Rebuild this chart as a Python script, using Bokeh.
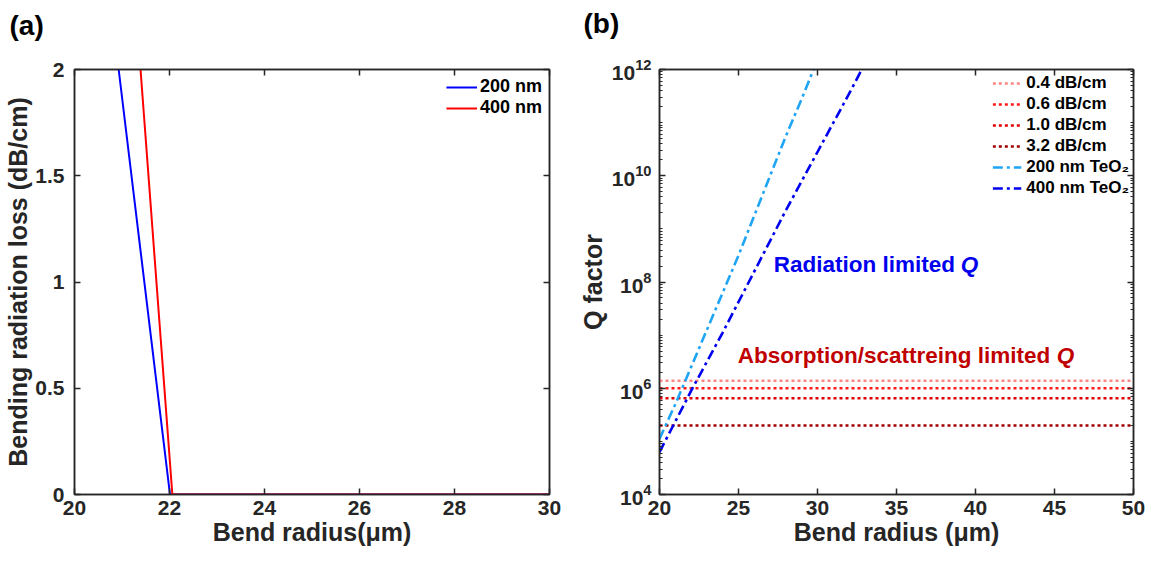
import math
from bokeh.plotting import figure
from bokeh.models import (Range1d, LinearAxis, LogAxis, FixedTicker, CustomJSTickFormatter,
                          LogTickFormatter, Legend, LegendItem, Label, Title)
from bokeh.layouts import row
from bokeh.embed import file_html
from bokeh.resources import INLINE

FONT = "Liberation Sans"
AXC = "#262626"

# ---------------- data: panel (a) ----------------
radius_200_a = [20.93, 22.01, 30.0]
loss_200_a = [2.0, 0.0, 0.0]
radius_400_a = [21.39, 22.06, 30.0]
loss_400_a = [2.0, 0.0, 0.0]
a_series = ["200 nm", "400 nm"]
a_xticks = [20, 22, 24, 26, 28, 30]
a_yticks = [0, 0.5, 1, 1.5, 2]

# ---------------- data: panel (b) ----------------
radius_200_b = [20, 21, 22, 23, 24, 25, 26, 27, 28, 29, 29.75]
q_200_b = [1.12e5, 5.0e5, 2.5e6, 1.26e7, 6.3e7, 3.16e8, 1.78e9, 1.0e10, 5.6e10, 2.8e11, 1.0e12]
radius_400_b = [20, 22, 24, 26, 28, 30, 32, 32.8]
q_400_b = [6.3e4, 8.9e5, 1.12e7, 1.58e8, 2.24e9, 2.8e10, 3.5e11, 1.0e12]
loss_labels = ["0.4 dB/cm", "0.6 dB/cm", "1.0 dB/cm", "3.2 dB/cm"]
loss_q = [1.39e6, 1.0e6, 6.5e5, 2.0e5]
loss_colors = ["#FF8585", "#FF1A1A", "#E00000", "#A00000"]
teo2_labels = ["200 nm TeO\u2082", "400 nm TeO\u2082"]
b_xticks = [20, 25, 30, 35, 40, 45, 50]
b_yticks = [1e4, 1e6, 1e8, 1e10, 1e12]
b_minor = [k * 10.0 ** n for n in range(4, 12) for k in range(2, 10)] + [10.0 ** n for n in (5, 7, 9, 11)]


def style_axis(ax, ticks, minor=None, labels=True, tick_size="21px", blank=""):
    ax.ticker = FixedTicker(ticks=ticks, minor_ticks=minor or [])
    ax.axis_line_color = AXC
    ax.axis_line_width = 1.5
    ax.major_tick_line_color = AXC
    ax.major_tick_line_width = 1.5
    ax.minor_tick_line_color = AXC
    ax.minor_tick_line_width = 1
    ax.major_tick_in = 6
    ax.major_tick_out = 0
    ax.minor_tick_in = 3
    ax.minor_tick_out = 0
    ax.major_label_text_font = FONT
    ax.major_label_text_font_style = "bold"
    ax.major_label_text_font_size = tick_size
    ax.major_label_text_color = AXC
    ax.axis_label_text_font = FONT
    ax.axis_label_text_font_style = "bold"
    ax.axis_label_text_font_size = "25px"
    ax.axis_label_text_color = AXC
    if not labels:
        ax.formatter = CustomJSTickFormatter(code="return '%s';" % blank)
        ax.major_label_standoff = 0
        ax.major_label_text_font_size = "1px"


def panel_title(text, offset):
    return Title(text=text, align="left", offset=offset, standoff=5,
                 text_font=FONT, text_font_style="bold", text_font_size="28px",
                 text_color="#000000")


# ---------------- panel (a) ----------------
pa = figure(width=574, height=562, x_range=Range1d(20, 30), y_range=Range1d(0, 2),
            output_backend="svg", toolbar_location=None,
            title=panel_title("(a)", -65),
            min_border_left=74, min_border_right=25, min_border_top=67, min_border_bottom=68)
pa.grid.visible = False
pa.outline_line_color = AXC
pa.outline_line_width = 1.5

ra = pa.line(radius_200_a, loss_200_a, line_color="#0000FF", line_width=2)
rb = pa.line(radius_400_a, loss_400_a, line_color="#FF0000", line_width=2)

style_axis(pa.xaxis[0], a_xticks)
pa.xaxis[0].axis_label = "Bend radius(\u03bcm)"
pa.xaxis[0].major_label_standoff = 6
pa.xaxis[0].axis_label_standoff = 0
style_axis(pa.yaxis[0], a_yticks)
pa.yaxis[0].formatter = CustomJSTickFormatter(code="return String(tick);")
pa.yaxis[0].axis_label = "Bending radiation loss (dB/cm)"
pa.yaxis[0].major_label_standoff = 10
pa.yaxis[0].axis_label_standoff = 0

top_a = LinearAxis()
style_axis(top_a, a_xticks, labels=False, blank=" ")
top_a.major_label_standoff = 22
pa.add_layout(top_a, "above")
right_a = LinearAxis()
style_axis(right_a, a_yticks, labels=False)
pa.add_layout(right_a, "right")

leg_a = Legend(items=[LegendItem(label=a_series[0], renderers=[ra]),
                      LegendItem(label=a_series[1], renderers=[rb])],
               location="top_right", margin=0, padding=7, spacing=0,
               glyph_width=31, label_standoff=3, label_height=20,
               label_text_font=FONT, label_text_font_style="bold", label_text_font_size="18px",
               label_text_color="#000000", border_line_alpha=0, background_fill_alpha=0)
pa.add_layout(leg_a)

# ---------------- panel (b) ----------------
pb = figure(width=583, height=562, x_range=Range1d(20, 50), y_range=Range1d(1e4, 1e12),
            y_axis_type="log", output_backend="svg", toolbar_location=None,
            title=panel_title("(b)", -76),
            min_border_left=85, min_border_right=24, min_border_top=69, min_border_bottom=65)
pb.grid.visible = False
pb.outline_line_color = AXC
pb.outline_line_width = 1.5

loss_renderers = []
for lab, q, c in zip(loss_labels, loss_q, loss_colors):
    r = pb.line([20, 50], [q, q], line_color=c, line_width=2.5, line_dash="3 3")
    loss_renderers.append(r)
r200 = pb.line(radius_200_b, q_200_b, line_color="#1FA5F5", line_width=2.6, line_dash="10 4 3 4")
r400 = pb.line(radius_400_b, q_400_b, line_color="#0000F0", line_width=2.6, line_dash="10 4 3 4")

style_axis(pb.xaxis[0], b_xticks)
pb.xaxis[0].axis_label = "Bend radius (\u03bcm)"
pb.xaxis[0].major_label_standoff = 6
pb.xaxis[0].axis_label_standoff = 0
style_axis(pb.yaxis[0], b_yticks, minor=b_minor)
pb.yaxis[0].formatter = LogTickFormatter()
pb.yaxis[0].major_label_standoff = 8
pb.yaxis[0].axis_label = "Q factor"
pb.yaxis[0].axis_label_standoff = 2

top_b = LinearAxis()
style_axis(top_b, b_xticks, labels=False, blank=" ")
top_b.major_label_standoff = 24
pb.add_layout(top_b, "above")
right_b = LogAxis()
style_axis(right_b, b_yticks, minor=b_minor, labels=False)
pb.add_layout(right_b, "right")

items_b = [LegendItem(label=l, renderers=[r]) for l, r in zip(loss_labels, loss_renderers)]
items_b += [LegendItem(label=teo2_labels[0], renderers=[r200]),
            LegendItem(label=teo2_labels[1], renderers=[r400])]
leg_b = Legend(items=items_b, location="top_right", margin=0, padding=4, spacing=1,
               glyph_width=29, label_standoff=5, label_height=19,
               label_text_font=FONT, label_text_font_style="bold", label_text_font_size="17px",
               label_text_color="#000000", border_line_alpha=0, background_fill_alpha=0)
pb.add_layout(leg_b)

ann_size = "22.5px"
pb.add_layout(Label(x=27.23, y=2.1e8, text="Radiation limited ", text_font=FONT,
                    text_font_style="bold", text_font_size=ann_size, text_color="#0000EE",
                    text_baseline="middle"))
pb.add_layout(Label(x=27.23, y=2.1e8, x_offset=187, text="Q", text_font=FONT,
                    text_font_style="bold italic", text_font_size=ann_size, text_color="#0000EE",
                    text_baseline="middle"))
pb.add_layout(Label(x=24.95, y=4.2e6, text="Absorption/scattreing limited ", text_font=FONT,
                    text_font_style="bold", text_font_size=ann_size, text_color="#C00000",
                    text_baseline="middle"))
pb.add_layout(Label(x=24.95, y=4.2e6, x_offset=319, text="Q", text_font=FONT,
                    text_font_style="bold italic", text_font_size=ann_size, text_color="#C00000",
                    text_baseline="middle"))

layout = row(pa, pb)
open("out.html", "w").write(file_html(layout, INLINE))
